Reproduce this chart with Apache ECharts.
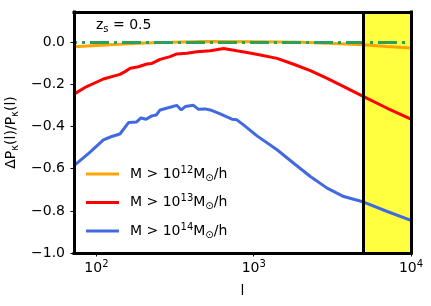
<!DOCTYPE html>
<html><head><meta charset="utf-8">
<script src="https://cdn.jsdelivr.net/npm/echarts@6/dist/echarts.min.js"></script>
<style>html,body{margin:0;padding:0;background:#fff}#c{width:431px;height:306px}</style>
</head><body><div id="c"></div>
<script>
// ---- data ----
const massExp = [12, 13, 14];
const ellOrange = [72, 100, 150, 200, 300, 500, 1000, 2000, 3000, 5000, 7000, 10000];
const orangeVals = [-0.021, -0.015, -0.008, -0.003, 0.000, 0.004, 0.003, 0.000, -0.004, -0.012, -0.020, -0.027];
const ellRed = [72, 86.7, 110.7, 141, 152, 164, 185, 209, 225, 254, 294, 324, 376, 435, 529, 643, 781, 906, 1102, 1407, 1795, 2291, 2930, 3737, 5000, 7063, 10000];
const redVals = [-0.246, -0.210, -0.174, -0.152, -0.139, -0.123, -0.116, -0.103, -0.100, -0.081, -0.068, -0.055, -0.052, -0.045, -0.040, -0.029, -0.040, -0.048, -0.060, -0.076, -0.104, -0.134, -0.171, -0.210, -0.258, -0.313, -0.365];
const ellBlue = [72, 90, 110.7, 125, 141, 160, 180, 192, 207, 225, 240, 254, 294, 324, 346, 367, 414, 446, 491, 529, 612, 727, 781, 861, 1049, 1407, 1795, 2291, 2930, 3737, 5000, 7063, 10000];
const blueVals = [-0.585, -0.525, -0.463, -0.447, -0.435, -0.381, -0.378, -0.359, -0.365, -0.349, -0.345, -0.321, -0.308, -0.299, -0.321, -0.305, -0.299, -0.318, -0.316, -0.321, -0.340, -0.365, -0.368, -0.392, -0.444, -0.510, -0.574, -0.637, -0.692, -0.732, -0.758, -0.803, -0.845];
const bandRange = [5000, 10000];
const zeroLevel = 0;
const majorTicks = [100, 1000, 10000];
const minorTicks = [80, 90, 200, 300, 400, 500, 600, 700, 800, 900, 2000, 3000, 4000, 5000, 6000, 7000, 8000, 9000];
const yTicks = [-1.0, -0.8, -0.6, -0.4, -0.2, 0.0];
const xRange = [72, 10000];
const yRange = [-1.0, 0.144];
const seriesColors = ['#ffa500', '#ff0000', '#4169e1'];

// ---- chart ----
const FONT = 'DejaVu Sans';
const chart = echarts.init(document.getElementById('c'), null, {renderer: 'canvas'});
const pairs = (xs, ys) => xs.map((x, i) => [x, ys[i]]);
const names = massExp.map(e => 'M > 10^' + e + ' M⊙/h');
const legendText = {};
names.forEach((n, i) => { legendText[n] = 'M > 10{sup|' + massExp[i] + '}M{sub|⊙}/h'; });
const richSS = {
  sup: {fontFamily: FONT, fontSize: 10, lineHeight: 10, verticalAlign: 'top', color: '#000'},
  sub: {fontFamily: FONT, fontSize: 10, lineHeight: 10, verticalAlign: 'bottom', color: '#000'}
};
const hiddenAxisBits = {axisTick: {show: false}, axisLabel: {show: false}, splitLine: {show: false}};
const borderLine = {show: true, onZero: false, lineStyle: {color: '#000', width: 3, cap: 'square'}};
const lx0 = Math.log10(xRange[0]), lx1 = Math.log10(xRange[1]);
const lineSeries = [ellOrange, ellRed, ellBlue].map((xs, i) => ({
  type: 'line', name: names[i], xAxisIndex: 0, yAxisIndex: 0, z: 3,
  data: pairs(xs, [orangeVals, redVals, blueVals][i]),
  symbol: 'none', showSymbol: false, smooth: false, clip: true,
  lineStyle: {color: seriesColors[i], width: 3}, itemStyle: {color: seriesColors[i]},
  emphasis: {disabled: true}
}));

const option = {
  animation: false,
  grid: {left: 74, right: 20, top: 12, bottom: 53, outerBoundsMode: 'none'},
  title: {
    text: 'z{s|s} = 0.5', left: 96, top: 16, padding: 0,
    textStyle: {fontFamily: FONT, fontSize: 14, fontWeight: 'normal', color: '#000', lineHeight: 18,
      rich: {s: {fontFamily: FONT, fontSize: 10, lineHeight: 10, verticalAlign: 'bottom', color: '#000'}}}
  },
  legend: {
    data: names, orient: 'vertical', left: 86, top: 165, padding: 0, itemGap: 10.5,
    itemWidth: 33, itemHeight: 3, icon: 'rect', selectedMode: false,
    formatter: n => legendText[n],
    textStyle: {fontFamily: FONT, fontSize: 14, color: '#000', lineHeight: 18, padding: [0, 0, 0, 6], rich: richSS}
  },
  xAxis: [
    Object.assign({type: 'log', logBase: 10, min: xRange[0], max: xRange[1], position: 'bottom', z: 10,
      axisLine: borderLine,
      name: 'l', nameLocation: 'middle', nameGap: 31,
      nameTextStyle: {fontFamily: FONT, fontSize: 14, color: '#000'}}, hiddenAxisBits),
    Object.assign({type: 'value', min: 0, max: 1, position: 'top', z: 10, axisLine: borderLine}, hiddenAxisBits),
    {type: 'value', min: lx0, max: lx1, position: 'bottom', z: 10,
      axisLine: {show: false, onZero: false}, splitLine: {show: false},
      axisTick: {show: true, customValues: majorTicks.map(Math.log10), length: 3.5, lineStyle: {color: '#000', width: 1}},
      axisLabel: {show: true, customValues: majorTicks.map(Math.log10), margin: 6,
        formatter: v => '10{sup|' + Math.round(v) + '}',
        fontFamily: FONT, fontSize: 14, color: '#000', lineHeight: 18, rich: richSS}},
    {type: 'value', min: lx0, max: lx1, position: 'bottom', z: 10,
      axisLine: {show: false, onZero: false}, splitLine: {show: false}, axisLabel: {show: false},
      axisTick: {show: true, customValues: minorTicks.map(Math.log10), length: 2, lineStyle: {color: '#000', width: 0.8}}}
  ],
  yAxis: [
    {type: 'value', min: yRange[0], max: yRange[1], position: 'left', z: 10,
      axisLine: borderLine, splitLine: {show: false},
      axisTick: {show: true, customValues: yTicks, length: 3.5, lineStyle: {color: '#000', width: 1}},
      axisLabel: {show: true, customValues: yTicks, margin: 9,
        formatter: v => (v < -1e-9 ? '\u2212' : '') + Math.abs(v).toFixed(1),
        fontFamily: FONT, fontSize: 14, color: '#000'},
      name: '\u0394P{s|\u03ba}(l)/P{s|\u03ba}(l)', nameLocation: 'middle', nameRotate: 90, nameGap: 40,
      nameTextStyle: {fontFamily: FONT, fontSize: 14, color: '#000', lineHeight: 18,
        rich: {s: {fontFamily: FONT, fontSize: 10, lineHeight: 10, verticalAlign: 'bottom', color: '#000'}}}},
    Object.assign({type: 'value', min: 0, max: 1, position: 'right', z: 10, axisLine: borderLine}, hiddenAxisBits)
  ],
  series: [
    {type: 'line', name: 'band', data: [], xAxisIndex: 0, yAxisIndex: 0, z: 1, silent: true,
      markArea: {silent: true, itemStyle: {color: '#ffff40'}, emphasis: {disabled: true},
        data: [[{xAxis: bandRange[0]}, {xAxis: bandRange[1]}]]}},
    ...lineSeries,
    {type: 'line', name: 'zero', data: [], xAxisIndex: 0, yAxisIndex: 0, z: 4, silent: true,
      markLine: {silent: true, symbol: 'none', label: {show: false}, emphasis: {disabled: true},
        lineStyle: {color: '#2ca05a', width: 3, type: [19, 5, 3, 5], dashOffset: 16},
        data: [{yAxis: zeroLevel}]}},
    {type: 'line', name: 'edge', data: [], xAxisIndex: 0, yAxisIndex: 0, z: 5, silent: true,
      markLine: {silent: true, symbol: 'none', label: {show: false}, emphasis: {disabled: true},
        lineStyle: {color: '#000', width: 3, type: 'solid'},
        data: [{xAxis: bandRange[0]}]}}
  ]
};
chart.setOption(option);
</script>
</body></html>
